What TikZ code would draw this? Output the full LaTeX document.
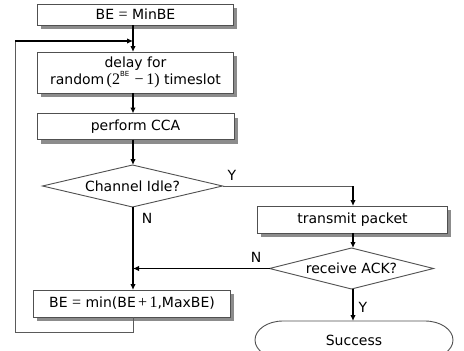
\documentclass[tikz,border=0pt]{standalone}
\usepackage{fontspec}
\setmainfont{DejaVu Sans}
\newfontfamily\seriffont{Liberation Serif}
\usetikzlibrary{arrows.meta,shapes.geometric,shadows}
\definecolor{boxline}{HTML}{505050}
\definecolor{shadowgray}{HTML}{8C8C8C}
\definecolor{thinline}{HTML}{5A5A5A}
\tikzset{
  box/.style={draw=boxline, line width=0.9pt, fill=white, inner sep=0pt, outer sep=0pt,
    align=center, font=\fontsize{14}{17}\selectfont,
    drop shadow={shadow xshift=3.5pt, shadow yshift=-4pt, fill=shadowgray, opacity=1}},
  decision/.style={diamond, draw=boxline, line width=0.9pt, fill=white, inner sep=0pt, outer sep=0pt,
    font=\fontsize{14}{17}\selectfont},
  flow/.style={line width=1.4pt, -{Latex[length=6pt,width=5.5pt]}},
  thinflow/.style={draw=thinline, line width=0.8pt},
  lbl/.style={font=\fontsize{14}{17}\selectfont, inner sep=0pt},
}
\newcommand{\sr}[1]{{\seriffont\fontsize{16}{17}\selectfont #1}}
\begin{document}
\begin{tikzpicture}[x=1pt,y=1pt]
\clip (0,0) rectangle (464,-351);
\fill[white] (0,0) rectangle (464,-351);
% nodes
\node[box, minimum width=196, minimum height=21] (b1) at (135.5,-14.5) {BE \sr{=} MinBE};
\node[box, minimum width=196, minimum height=41] (b2) at (135.5,-72.5) {delay for\\random\,\sr{(2}\raisebox{0.6em}{\fontsize{7}{7}\selectfont BE}\sr{\,\,\textminus\,1)} timeslot};
\node[box, minimum width=197, minimum height=26] (b3) at (135.5,-126.5) {perform CCA};
\node[decision, aspect=4.3, minimum width=180, minimum height=42] (d1) at (132.5,-186) {Channel Idle?};
\node[box, minimum width=197, minimum height=27] (b4) at (132,-303.5) {BE \sr{=} min(BE\,\sr{+}\,\sr{1},MaxBE)};
\node[box, minimum width=190, minimum height=27] (b5) at (352.5,-219.5) {transmit packet};
\node[decision, aspect=4, minimum width=164, minimum height=41] (d2) at (351.5,-268.5) {receive ACK?};
\node[inner sep=0pt, outer sep=0pt, minimum width=198, minimum height=38, font=\fontsize{14}{17}\selectfont] (s) at (354,-340) {Success};
\draw[boxline, line width=0.9pt] ([xshift=-71pt]s.north) -- ([xshift=71pt]s.north)
  arc[start angle=90, end angle=-90, x radius=28, y radius=19]
  -- ([xshift=-71pt]s.south)
  arc[start angle=270, end angle=90, x radius=28, y radius=19] -- cycle;
% helper coordinates
\coordinate (ax) at (133,0);
\coordinate (bx) at (353,0);
\coordinate (lp1) at (15,-332);
\coordinate (lp2) at (15,-41);
\coordinate (j2) at (133,-41);
\coordinate (j) at (133,-268.5);
\coordinate (yc) at (353,-186);
% connectors
\draw[flow] (b1.south -| ax) -- (b2.north -| ax);
\draw[flow] (b2.south -| ax) -- (b3.north -| ax);
\draw[flow] (b3.south -| ax) -- (d1.north -| ax);
\draw[flow] (d1.south -| ax) -- (b4.north -| ax);
\draw[thinflow] (b4.south -| ax) |- (lp1) -- (lp2);
\draw[flow] (lp2) -- (j2);
\draw[thinflow] (d1.east) -- (yc);
\draw[flow] (yc) -- (b5.north -| bx);
\draw[flow] (b5.south -| bx) -- (d2.north -| bx);
\draw[flow] (d2.west) -- (j);
\draw[flow] (d2.south -| bx) -- (s.north -| bx);
% labels
\node[lbl] (ly1) at (232,-175) {Y};
\node[lbl] (ln1) at (147,-218) {N};
\node[lbl] (ln2) at (256,-257) {N};
\node[lbl] (ly2) at (363,-307) {Y};
\end{tikzpicture}
\end{document}
